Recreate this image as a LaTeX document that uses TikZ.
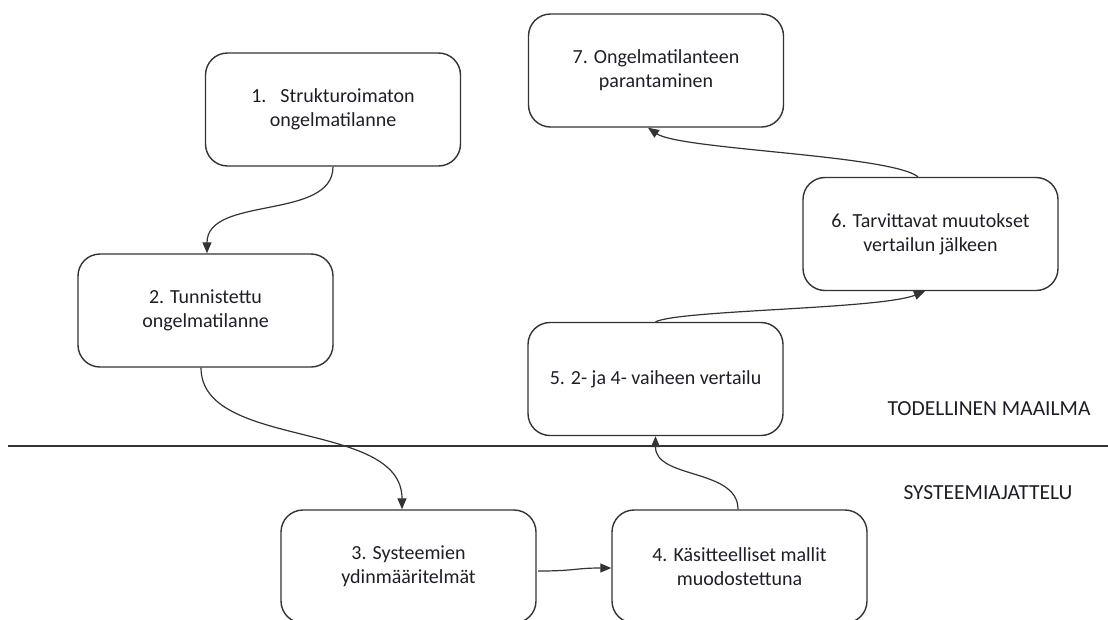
\documentclass[tikz,border=0pt]{standalone}
\usepackage{fontspec}
\setmainfont{Carlito}
\usetikzlibrary{arrows.meta,calc}
\definecolor{edge}{HTML}{333333}
\definecolor{ink}{HTML}{1E1E28}
\tikzset{
  stage/.style={draw=edge, line width=1.4pt, rounded corners=22pt,
    minimum width=255pt, minimum height=113pt, align=center,
    text=ink, font=\fontsize{20}{24}\selectfont},
  flow/.style={draw=edge, line width=1.2pt,
    -{Triangle[length=11pt,width=9pt]}},
  realm/.style={text=ink, font=\fontsize{21.5}{25}\selectfont}
}
\begin{document}
\begin{tikzpicture}[x=1pt,y=-1pt]
  \useasboundingbox (0,0) rectangle (1108,619);
  \clip (0,0) rectangle (1108,619);

  % process stages
  \node[stage] (b1) at (333,109.5) {1.\hspace{14pt}Strukturoimaton\\ongelmatilanne};
  \node[stage] (b2) at (205.5,310.5) {2. Tunnistettu\\ongelmatilanne};
  \node[stage] (b3) at (408.5,566.5) {3. Systeemien\\ydinmääritelmät};
  \node[stage] (b4) at (739.5,566.5) {4. Käsitteelliset mallit\\muodostettuna};
  \node[stage] (b5) at (655.5,379) {5. 2- ja 4- vaiheen vertailu};
  \node[stage] (b6) at (930.5,234) {6. Tarvittavat muutokset\\vertailun jälkeen};
  \node[stage] (b7) at (656,70.5) {7. Ongelmatilanteen\\parantaminen};

  % boundary between the real world and systems thinking
  \coordinate (lineL) at (8,446);
  \coordinate (lineR) at (1108,446);
  \draw[edge, line width=1.6pt] (lineL) -- (lineR);
  \node[realm] (real) at (989,409) {TODELLINEN MAAILMA};
  \node[realm] (syst) at (988,493) {SYSTEEMIAJATTELU};

  % transitions between stages
  \draw[flow] (b1.south) .. controls +(0,54) and +(0,-58) .. ($(b2.north)+(1.5,0)$);
  \draw[flow] ($(b2.south)+(-4.5,0)$) .. controls +(0,82) and +(0,-90) .. ($(b3.north)+(-6.5,0)$);
  \draw[flow] ($(b3.east)+(1.5,4.5)$) .. controls +(38,0) and +(-37,0) .. ($(b4.west)+(0,1.5)$);
  \draw[flow] ($(b4.north)+(-1.5,0)$) .. controls +(0,-41) and +(0,43) .. (b5.south);
  \draw[flow] (b5.north) .. controls +(25,-12) and +(-45,18) .. ($(b6.south)+(-5.5,0)$);
  \draw[flow] ($(b6.north)+(-12.5,0)$) .. controls +(-28,-22) and +(32,22) .. ($(b7.south)+(-8,0)$);
\end{tikzpicture}
\end{document}
